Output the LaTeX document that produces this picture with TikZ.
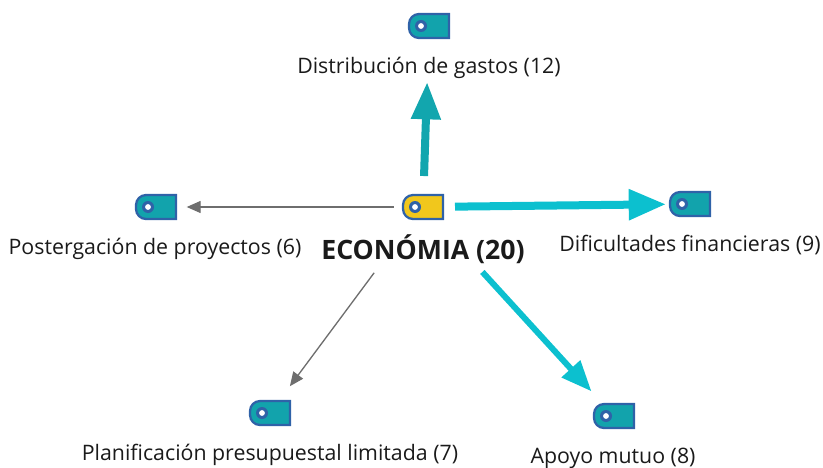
\documentclass[tikz,border=0pt]{standalone}
\usepackage{fontspec}
\setmainfont{Open Sans}
\usetikzlibrary{arrows.meta}
\definecolor{tagteal}{HTML}{12A3AC}
\definecolor{tagblue}{HTML}{2F62A8}
\definecolor{tagyellow}{HTML}{F1C71C}
\definecolor{arrteal}{HTML}{12A6AE}
\definecolor{arrcyan}{HTML}{0CC0CF}
\definecolor{arrgray}{HTML}{6E6E6E}
\definecolor{txt}{HTML}{1A1A1A}
\newcommand{\tagicon}[3]{%
  \node[tagnode] (#1) at (#2) {};
  \begin{scope}[shift={(#1.center)}]
    \draw[line width=1.7pt,draw=tagblue,fill=#3,line join=miter]
      (20,-12) -- (20,12) -- (-10,12) [rounded corners=7.5pt] -- (-20,12) -- (-20,-12) [sharp corners] -- (-10,-12) -- cycle;
    \fill[tagblue] (-8,0) circle[radius=6];
    \fill[white] (-8,0) circle[radius=2.9];
  \end{scope}}
\tikzset{
  x=0.75pt,y=-0.75pt,
  tagnode/.style={rectangle,minimum width=31.5pt,minimum height=18pt,inner sep=0pt,draw=none},
  lab/.style={text=txt,inner sep=0pt,font=\fontsize{16pt}{19pt}\selectfont},
  hublab/.style={text=txt,inner sep=0pt,font=\fontsize{20pt}{24pt}\selectfont\bfseries},
  thin arrow/.style={draw=arrgray,line width=1pt,-{Triangle[length=10.5pt,width=9pt]}},
  thick up/.style={draw=arrteal,line width=6pt,-{Triangle[length=28pt,width=21pt]}},
  thick right/.style={draw=arrcyan,line width=6pt,-{Triangle[length=28pt,width=22pt]}},
  mid arrow/.style={draw=arrcyan,line width=4.5pt,-{Triangle[length=23pt,width=18pt]}},
}
\begin{document}
\begin{tikzpicture}
\useasboundingbox (0,0) rectangle (823,467);
\tagicon{hub}{423,207}{tagyellow}
\tagicon{dist}{429,26}{tagteal}
\tagicon{difi}{690,204}{tagteal}
\tagicon{post}{156,207}{tagteal}
\tagicon{plan}{270,413}{tagteal}
\tagicon{apoyo}{614,416}{tagteal}
\node[lab] (ldist) at (429,67.5) {Distribución de gastos (12)};
\node[lab] (ldifi) at (690,245) {Dificultades financieras (9)};
\node[lab] (lpost) at (155,249) {Postergación de proyectos (6)};
\node[hublab] (lhub) at (423,249) {ECONÓMIA (20)};
\node[lab] (lplan) at (270,455) {Planificación presupuestal limitada (7)};
\node[lab] (lapoyo) at (613,458) {Apoyo mutuo (8)};
\draw[thick up,shorten <=23.25pt,shorten >=42pt] (hub.center) -- (dist.center);
\draw[thick right,shorten <=24pt,shorten >=18pt] (hub.center) -- (difi.center);
\draw[thin arrow,shorten <=22pt,shorten >=23pt] (hub.center) -- (post.center);
\draw[thin arrow,shorten <=61.5pt,shorten >=25pt] (hub.center) -- (plan.center);
\draw[mid arrow,shorten <=66pt,shorten >=25pt] (hub.center) -- (apoyo.center);
\end{tikzpicture}
\end{document}
